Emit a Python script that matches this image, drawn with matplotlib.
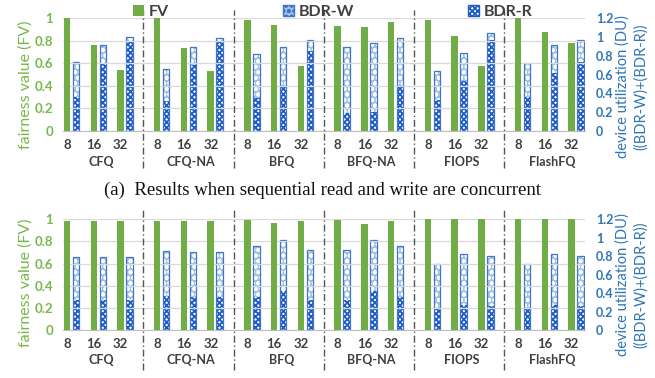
import matplotlib
matplotlib.use('Agg')
import matplotlib.pyplot as plt
from matplotlib.patches import Patch
from matplotlib.ticker import FuncFormatter
import matplotlib.transforms as mtransforms
import numpy as np

schedulers = ['CFQ', 'CFQ-NA', 'BFQ', 'BFQ-NA', 'FIOPS', 'FlashFQ']
depths = ['8', '16', '32']

# (a) sequential read and write concurrent
fv_a = [[1.00, 0.76, 0.54], [1.00, 0.74, 0.53], [0.99, 0.94, 0.58],
        [0.93, 0.92, 0.97], [0.99, 0.84, 0.58], [1.00, 0.88, 0.78]]
bdr_r_a = [[0.36, 0.71, 0.96], [0.32, 0.70, 0.96], [0.35, 0.47, 0.85],
           [0.19, 0.20, 0.48], [0.33, 0.53, 0.97], [0.36, 0.62, 0.74]]
bdr_w_a = [[0.38, 0.21, 0.04], [0.34, 0.19, 0.03], [0.47, 0.43, 0.12],
           [0.70, 0.74, 0.51], [0.31, 0.30, 0.07], [0.36, 0.30, 0.23]]

# (b) second workload
fv_b = [[0.98, 0.98, 0.98], [0.985, 0.985, 0.985], [0.99, 0.965, 0.985],
        [0.99, 0.96, 0.98], [1.00, 1.00, 1.00], [1.00, 1.00, 1.00]]
bdr_r_b = [[0.325, 0.325, 0.325], [0.365, 0.36, 0.36], [0.36, 0.42, 0.33],
           [0.33, 0.42, 0.36], [0.23, 0.27, 0.26], [0.23, 0.27, 0.26]]
bdr_w_b = [[0.465, 0.465, 0.465], [0.495, 0.49, 0.49], [0.55, 0.55, 0.54],
           [0.535, 0.55, 0.55], [0.48, 0.55, 0.54], [0.48, 0.55, 0.54]]

caption_a = '(a)  Results when sequential read and write are concurrent'

GREEN = '#70ad47'
GREEN_TXT = '#78b84c'
BLUE_TXT = '#2e75b6'
EDGE = '#4472c4'
W_FILL = '#9dc3e6'
R_HATCH = '#1a5cc8'
DARK = '#404040'
SANS = ['Lato', 'DejaVu Sans']

plt.rcParams['font.family'] = SANS
plt.rcParams['hatch.linewidth'] = 1.3

G = 3.372      # distance between scheduler groups (in category units)
OFF = 0.168
BW = 0.243

fig = plt.figure(figsize=(6.55, 3.78), dpi=100)
ax_a = fig.add_axes([0.0962, 0.6542, 0.797, 0.2969])
ax_b = fig.add_axes([0.0962, 0.1270, 0.797, 0.2929])


def draw_panel(ax, fv, bdr_r, bdr_w, sep_lo, sep_hi, label_y):
    fv = np.array(fv)
    r = np.array(bdr_r)
    w = np.array(bdr_w)
    x = np.array([[g * G + i for i in range(3)] for g in range(len(schedulers))])
    ax2 = ax.twinx()
    ax.set_zorder(ax2.get_zorder() + 1)
    ax.patch.set_visible(False)

    ax.bar(x.ravel() - OFF, fv.ravel(), BW, color=GREEN, zorder=3)

    xs = x.ravel() + OFF
    # BDR-R: white with dense blue check
    ax2.bar(xs, r.ravel(), BW, color='white', edgecolor=R_HATCH, hatch='xxxxxx',
            linewidth=0, zorder=3)
    # BDR-W: light blue with white dots
    ax2.bar(xs, w.ravel(), BW, bottom=r.ravel(), color=W_FILL, edgecolor='white',
            hatch='ooo', linewidth=0, zorder=3)
    ax2.bar(xs, (r + w).ravel(), BW, fill=False, edgecolor=EDGE, linewidth=0.9, zorder=4)

    ax.set_ylim(0, 1)
    ax2.set_ylim(0, 1.2)
    ax.set_xlim(-0.318, 2 + 5 * G + 0.336)
    ax.set_yticks(np.arange(0, 1.01, 0.2))
    ax2.set_yticks(np.arange(0, 1.21, 0.2))
    fmt = FuncFormatter(lambda v, p: '%g' % round(v, 1))
    ax.yaxis.set_major_formatter(fmt)
    ax2.yaxis.set_major_formatter(fmt)
    ax2.grid(False)
    ax.grid(axis='y', color='#d9d9d9', linewidth=0.9, zorder=0)
    ax.set_axisbelow(True)

    ax.set_xticks((x - OFF).ravel())
    ax.set_xticklabels(depths * len(schedulers), fontsize=9.5, color=DARK, fontweight='bold')
    ax.tick_params(axis='x', length=0, pad=6)
    ax.tick_params(axis='y', length=0, labelsize=9.5, labelcolor=GREEN_TXT, pad=7)
    ax2.tick_params(axis='y', length=0, labelsize=9, labelcolor=BLUE_TXT, pad=8)
    for lab in ax.get_yticklabels() + ax2.get_yticklabels():
        lab.set_fontweight('bold')

    for a in (ax, ax2):
        for s in a.spines.values():
            s.set_visible(False)
    ax.spines['bottom'].set_visible(True)
    ax.spines['bottom'].set_color('#bfbfbf')

    ax.set_ylabel('fairness value (FV)', fontsize=11.5, color=GREEN_TXT)
    ax.yaxis.set_label_coords(-0.0575, label_y)
    ax2.set_ylabel('device utilization (DU)\n((BDR-W)+(BDR-R))', fontsize=10.5,
                   color=BLUE_TXT, linespacing=1.4)
    ax2.yaxis.set_label_coords(1.058, label_y - 0.02)

    trans = mtransforms.blended_transform_factory(ax.transData, ax.transAxes)
    for g, name in enumerate(schedulers):
        ax.text(g * G + 1.1, -0.275, name, transform=trans, ha='center', va='center',
                fontsize=9, color=DARK, fontweight='bold')
        if g < len(schedulers) - 1:
            ax.axvline(g * G + (2 + G) / 2, sep_lo, sep_hi, color='#555555',
                       linestyle=(0, (5, 2, 1, 2)), linewidth=1.0, clip_on=False, zorder=5)


draw_panel(ax_a, fv_a, bdr_r_a, bdr_w_a, -0.33, 1.076, 0.41)
draw_panel(ax_b, fv_b, bdr_r_b, bdr_w_b, -0.36, 1.10, 0.43)

fig.text(0.492, 0.497, caption_a, ha='center', va='center', fontsize=13.5,
         family=['Liberation Serif', 'DejaVu Serif'], color='#111111')

handles = [Patch(facecolor=GREEN, label='FV'),
           Patch(facecolor=W_FILL, edgecolor=EDGE, hatch='ooo', label='BDR-W'),
           Patch(facecolor='white', edgecolor=R_HATCH, hatch='xxxxxx', label='BDR-R')]
leg = fig.legend(handles=handles, loc='center', bbox_to_anchor=(0.508, 0.968), ncol=3,
                 frameon=False, fontsize=11.5, handlelength=0.7, handleheight=0.7,
                 handletextpad=0.3, columnspacing=7.1)
for t in leg.get_texts():
    t.set_color(DARK)
    t.set_fontweight('bold')

fig.savefig('out.png', dpi=100)
